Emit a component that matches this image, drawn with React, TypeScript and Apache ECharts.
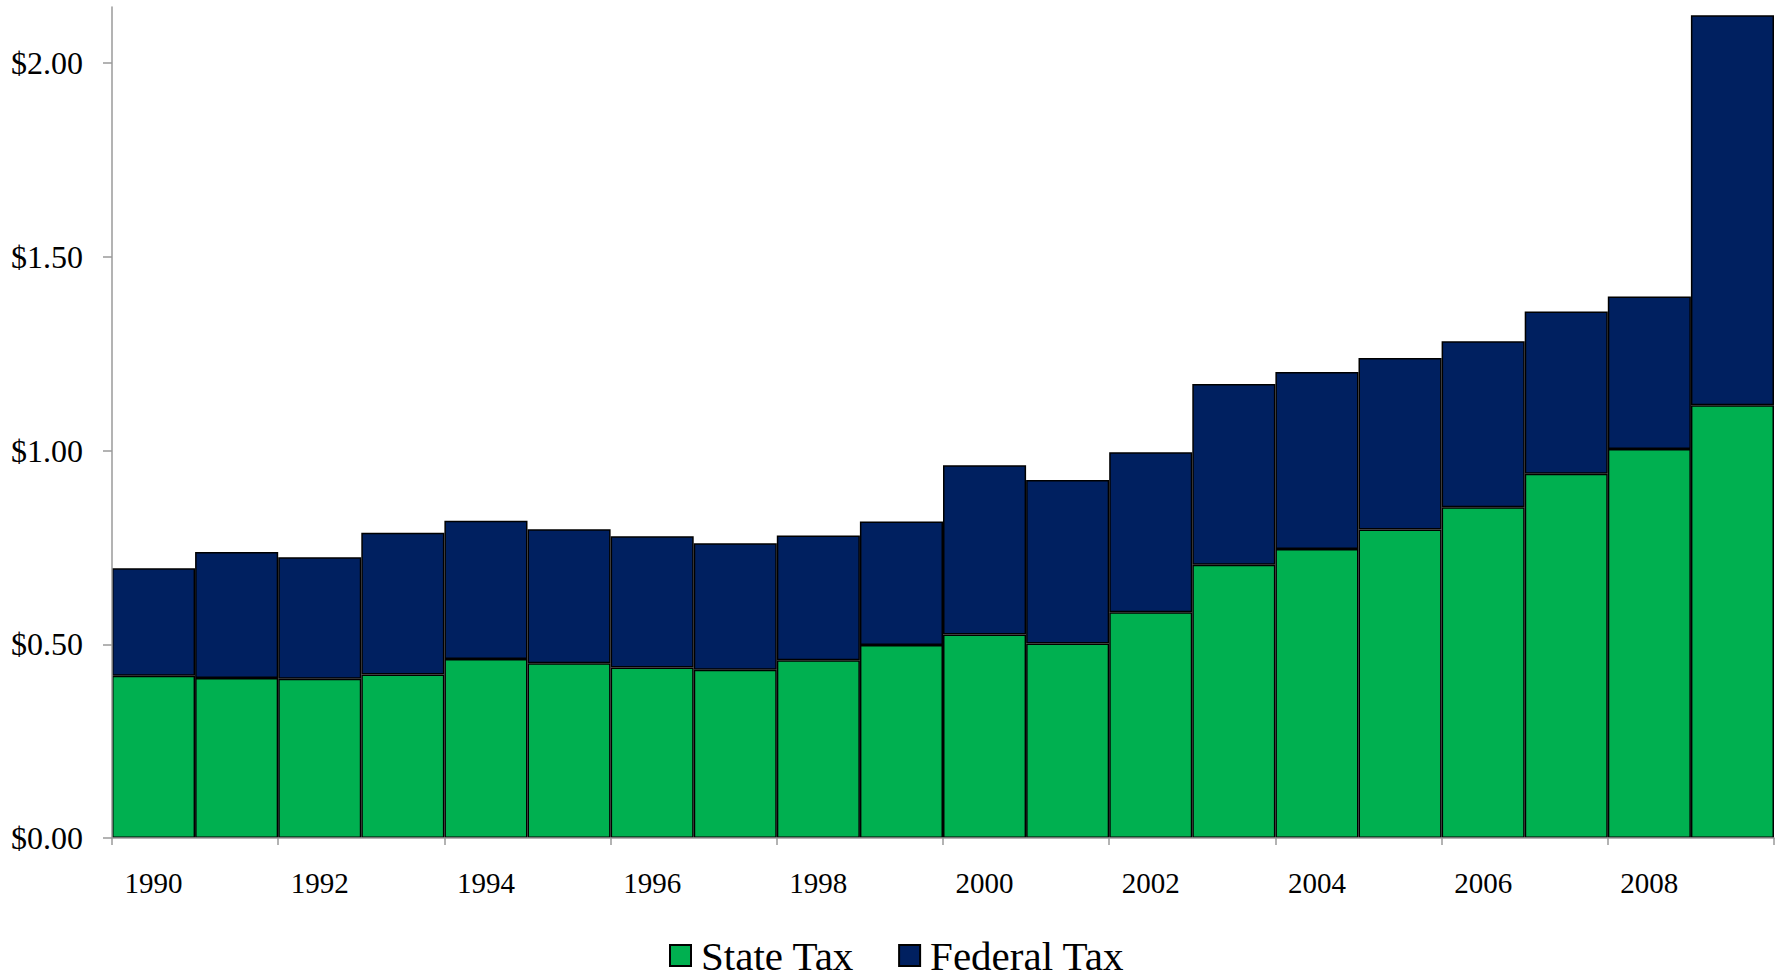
import React, { useEffect, useRef } from "react";
import * as echarts from "echarts";

const years = [
  "1990", "1991", "1992", "1993", "1994", "1995", "1996", "1997", "1998", "1999",
  "2000", "2001", "2002", "2003", "2004", "2005", "2006", "2007", "2008", "2009",
];
const stateTax = [
  0.419, 0.413, 0.411, 0.422, 0.462, 0.451, 0.44, 0.434, 0.459, 0.498,
  0.525, 0.502, 0.583, 0.705, 0.746, 0.796, 0.854, 0.94, 1.004, 1.117,
];
const federalTax = [
  0.277, 0.325, 0.314, 0.366, 0.357, 0.346, 0.339, 0.327, 0.322, 0.319,
  0.437, 0.422, 0.413, 0.467, 0.457, 0.443, 0.428, 0.419, 0.394, 1.007,
];
const yTicks = [0, 0.5, 1, 1.5, 2];
const seriesNames = ["State Tax", "Federal Tax"];

const FONT = '"Liberation Serif", "Times New Roman", serif';

export default function App() {
  const ref = useRef<HTMLDivElement>(null);
  useEffect(() => {
    if (!ref.current) return;
    const chart = echarts.init(ref.current, null, { renderer: "svg" });
    chart.setOption({
      animation: false,
      backgroundColor: "#ffffff",
      grid: { left: 112, right: 3, top: 7, bottom: 140, containLabel: false },
      legend: {
        left: 669,
        top: 935,
        padding: 0,
        itemWidth: 21,
        itemHeight: 21,
        itemGap: 44,
        icon: "rect",
        data: seriesNames,
        textStyle: {
          fontFamily: FONT,
          fontSize: 41,
          lineHeight: 36,
          color: "#000",
          padding: [0, 0, 0, 5],
        },
      },
      xAxis: {
        type: "category",
        data: years,
        boundaryGap: true,
        z: 3,
        axisLine: { lineStyle: { color: "#9a9a9a", width: 1.5 } },
        axisTick: { show: true, interval: 1, length: 7, alignWithLabel: false, lineStyle: { color: "#9a9a9a", width: 1.5 } },
        axisLabel: { interval: 1, margin: 30, fontFamily: FONT, fontSize: 29, color: "#000" },
        splitLine: { show: false },
      },
      yAxis: {
        type: "value",
        min: 0,
        max: 2.145,
        interval: 0.5,
        z: 3,
        axisLine: { show: true, lineStyle: { color: "#9a9a9a", width: 1.5 } },
        axisTick: { show: true, length: 9, customValues: yTicks, lineStyle: { color: "#9a9a9a", width: 1.5 } },
        axisLabel: {
          customValues: yTicks,
          margin: 29,
          fontFamily: FONT,
          fontSize: 32,
          color: "#000",
          formatter: (v: number) => "$" + v.toFixed(2),
        },
        splitLine: { show: false },
      },
      series: [
        {
          name: seriesNames[0],
          type: "bar",
          stack: "tax",
          data: stateTax,
          barCategoryGap: "0%",
          itemStyle: { color: "#00B050", borderColor: "#000", borderWidth: 1.5 },
        },
        {
          name: seriesNames[1],
          type: "bar",
          stack: "tax",
          data: federalTax,
          barCategoryGap: "0%",
          itemStyle: { color: "#002060", borderColor: "#000", borderWidth: 1.5 },
        },
      ],
    });
    return () => chart.dispose();
  }, []);
  return (
    <div
      ref={ref}
      style={{ position: "fixed", left: 0, top: 0, width: 1777, height: 978 }}
    />
  );
}
